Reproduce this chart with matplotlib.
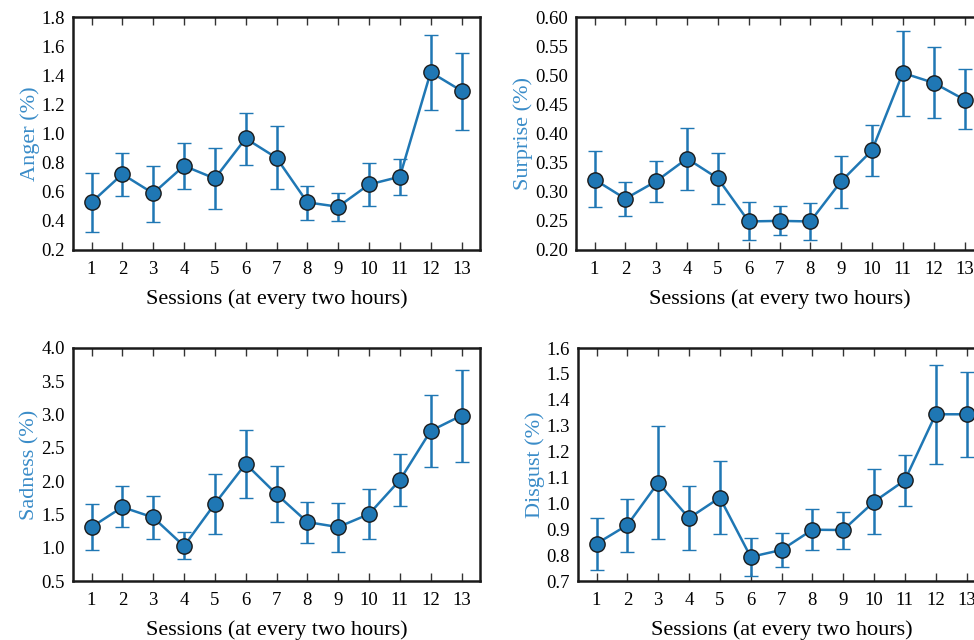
import matplotlib
matplotlib.use("Agg")
import matplotlib.pyplot as plt
import numpy as np

sessions = list(range(1, 14))

anger = [0.527, 0.721, 0.589, 0.778, 0.691, 0.966, 0.833, 0.527, 0.497, 0.650, 0.703, 1.421, 1.293]
anger_hi = [0.730, 0.863, 0.778, 0.936, 0.899, 1.144, 1.050, 0.641, 0.591, 0.794, 0.822, 1.679, 1.555]
anger_lo = [0.326, 0.573, 0.394, 0.616, 0.483, 0.787, 0.616, 0.408, 0.399, 0.502, 0.577, 1.160, 1.027]

surprise = [0.321, 0.288, 0.318, 0.357, 0.323, 0.249, 0.250, 0.249, 0.318, 0.371, 0.504, 0.487, 0.458]
surprise_hi = [0.370, 0.317, 0.353, 0.410, 0.367, 0.282, 0.275, 0.280, 0.362, 0.415, 0.576, 0.548, 0.510]
surprise_lo = [0.273, 0.258, 0.283, 0.303, 0.279, 0.217, 0.225, 0.217, 0.272, 0.327, 0.430, 0.426, 0.407]

sadness = [1.31, 1.61, 1.455, 1.025, 1.66, 2.26, 1.805, 1.385, 1.31, 1.505, 2.015, 2.755, 2.985]
sadness_hi = [1.66, 1.92, 1.78, 1.23, 2.10, 2.77, 2.22, 1.685, 1.675, 1.88, 2.41, 3.29, 3.675]
sadness_lo = [0.97, 1.305, 1.125, 0.825, 1.21, 1.75, 1.39, 1.075, 0.94, 1.125, 1.62, 2.21, 2.29]

disgust = [0.844, 0.916, 1.080, 0.943, 1.022, 0.793, 0.820, 0.898, 0.897, 1.006, 1.089, 1.344, 1.344]
disgust_hi = [0.943, 1.018, 1.297, 1.068, 1.162, 0.867, 0.885, 0.978, 0.968, 1.134, 1.188, 1.536, 1.507]
disgust_lo = [0.744, 0.813, 0.861, 0.818, 0.882, 0.718, 0.753, 0.818, 0.824, 0.882, 0.991, 1.153, 1.178]

plt.rcParams['font.family'] = ['Liberation Serif', 'DejaVu Serif']

W, H = 974, 640
fig = plt.figure(figsize=(W / 100, H / 100), dpi=100)

line_color = '#1f77b4'
label_color = '#3a8cc8'

panels = [
    # name, vals, hi, lo, ylim, yticks, fmt, (left, top, right, bottom) px
    ("Anger (%)", anger, anger_hi, anger_lo, (0.2, 1.8), np.arange(0.2, 1.81, 0.2), "%.1f", (73, 17, 480, 250)),
    ("Surprise (%)", surprise, surprise_hi, surprise_lo, (0.2, 0.6), np.arange(0.20, 0.601, 0.05), "%.2f", (576, 17, 983, 250)),
    ("Sadness (%)", sadness, sadness_hi, sadness_lo, (0.5, 4.0), np.arange(0.5, 4.01, 0.5), "%.1f", (73, 348, 480, 581)),
    ("Disgust (%)", disgust, disgust_hi, disgust_lo, (0.7, 1.6), np.arange(0.7, 1.601, 0.1), "%.1f", (578, 348, 985, 581)),
]

for name, vals, hi, lo, ylim, yticks, fmt, (l, t, r, b) in panels:
    ax = fig.add_axes([l / W, 1 - b / H, (r - l) / W, (b - t) / H])
    vals = np.array(vals)
    yerr = np.vstack([vals - np.array(lo), np.array(hi) - vals])
    ax.errorbar(sessions, vals, yerr=yerr, color=line_color, lw=1.8,
                elinewidth=1.8, capsize=5, capthick=1.8,
                marker='o', markersize=11, markerfacecolor=line_color,
                markeredgecolor='#1a1a1a', markeredgewidth=1.0)
    ax.set_xlim(0.4, 13.6)
    ax.set_ylim(*ylim)
    ax.set_xticks(sessions)
    ax.set_yticks(yticks)
    ax.set_yticklabels([fmt % v for v in yticks])
    ax.tick_params(axis='x', direction='in', top=True, bottom=True, length=6,
                   width=1.0, labelsize=13.5, pad=8, color='#333333')
    ax.tick_params(axis='y', length=0, labelsize=13.5, pad=6)
    for s in ax.spines.values():
        s.set_linewidth(1.8)
        s.set_color('#1a1a1a')
    ax.set_xlabel("Sessions (at every two hours)", fontsize=16, labelpad=8)
    ax.set_ylabel(name, fontsize=16, color=label_color, labelpad=1)

fig.savefig("out.png", dpi=100)
